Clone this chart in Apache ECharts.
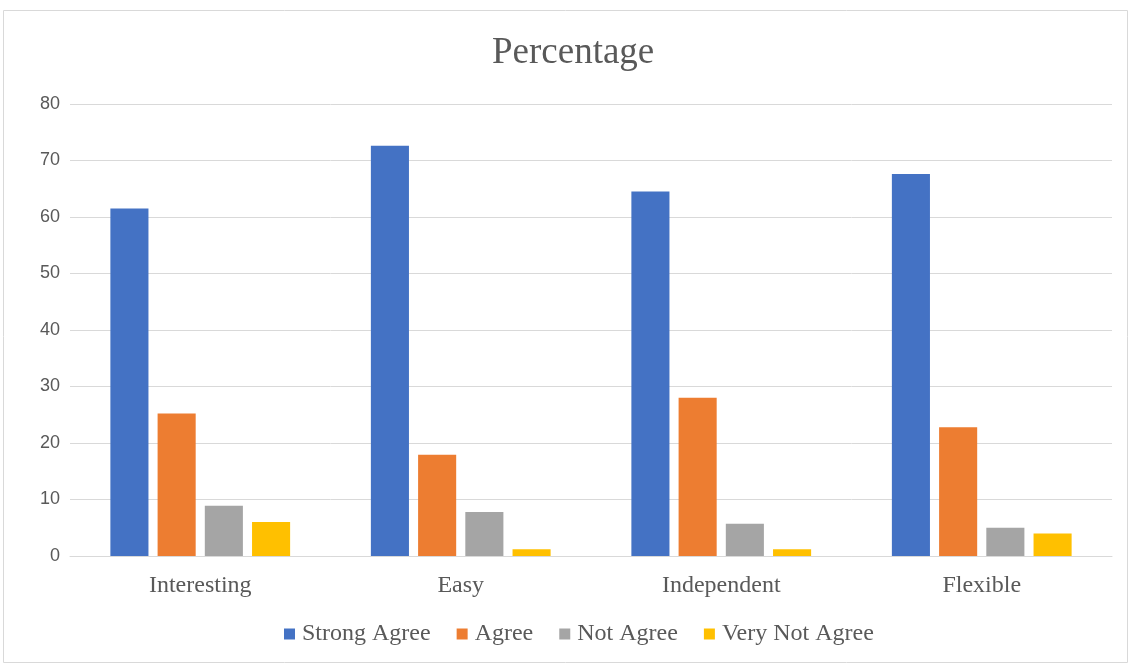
<!DOCTYPE html>
<html>
<head>
    <meta charset="utf-8">
    <script src="https://cdn.jsdelivr.net/npm/echarts@6/dist/echarts.min.js"></script>
    <style>
        body, html {
            margin: 0;
            height: 100%;
            background: #fff;
        }
        #main {
            width: 1132px;
            height: 666px;
        }
    </style>
</head>
<body>
<div id="main"></div>

<script>
    var categories = ['Interesting', 'Easy', 'Independent', 'Flexible'];
    var strongAgree = [61.5, 72.6, 64.5, 67.6];
    var agree = [25.2, 17.9, 28.0, 22.8];
    var notAgree = [8.9, 7.8, 5.7, 5.0];
    var veryNotAgree = [6.0, 1.2, 1.2, 4.0];

    var serif = '"Liberation Serif", "Times New Roman", serif';

    function bar(name, data, color) {
        return {
            name: name,
            type: 'bar',
            data: data,
            barGap: '24%',
            barCategoryGap: '31%',
            itemStyle: {color: color}
        };
    }

    var myChart = echarts.init(document.getElementById('main'));
    var option = {
        animation: false,
        graphic: [{
            type: 'rect',
            shape: {x: 3.5, y: 10.5, width: 1124, height: 652},
            style: {fill: 'none', stroke: '#d9d9d9', lineWidth: 1},
            silent: true
        }],
        title: {
            text: 'Percentage',
            left: 487,
            top: 30,
            textStyle: {
                fontFamily: serif,
                fontSize: 37,
                fontWeight: 'normal',
                color: '#595959'
            }
        },
        legend: {
            bottom: 15,
            left: 279,
            icon: 'rect',
            itemWidth: 11,
            itemHeight: 11,
            itemGap: 26,
            textStyle: {
                fontFamily: serif,
                fontSize: 24,
                color: '#595959',
                padding: [0, 0, 0, 2]
            }
        },
        grid: {
            left: 70,
            right: 20,
            top: 104,
            bottom: 110
        },
        xAxis: {
            type: 'category',
            data: categories,
            axisTick: {show: false},
            axisLine: {lineStyle: {color: '#d9d9d9'}},
            axisLabel: {
                fontFamily: serif,
                fontSize: 24,
                color: '#595959',
                margin: 18
            }
        },
        yAxis: {
            type: 'value',
            min: 0,
            max: 80,
            interval: 10,
            axisLabel: {
                fontFamily: '"Liberation Sans", Arial, sans-serif',
                fontSize: 18,
                color: '#595959',
                margin: 10
            },
            splitLine: {lineStyle: {color: '#d9d9d9', width: 1}}
        },
        series: [
            bar('Strong Agree', strongAgree, '#4472c4'),
            bar('Agree', agree, '#ed7d31'),
            bar('Not Agree', notAgree, '#a5a5a5'),
            bar('Very Not Agree', veryNotAgree, '#ffc000')
        ]
    };
    myChart.setOption(option);
</script>
</body>
</html>
